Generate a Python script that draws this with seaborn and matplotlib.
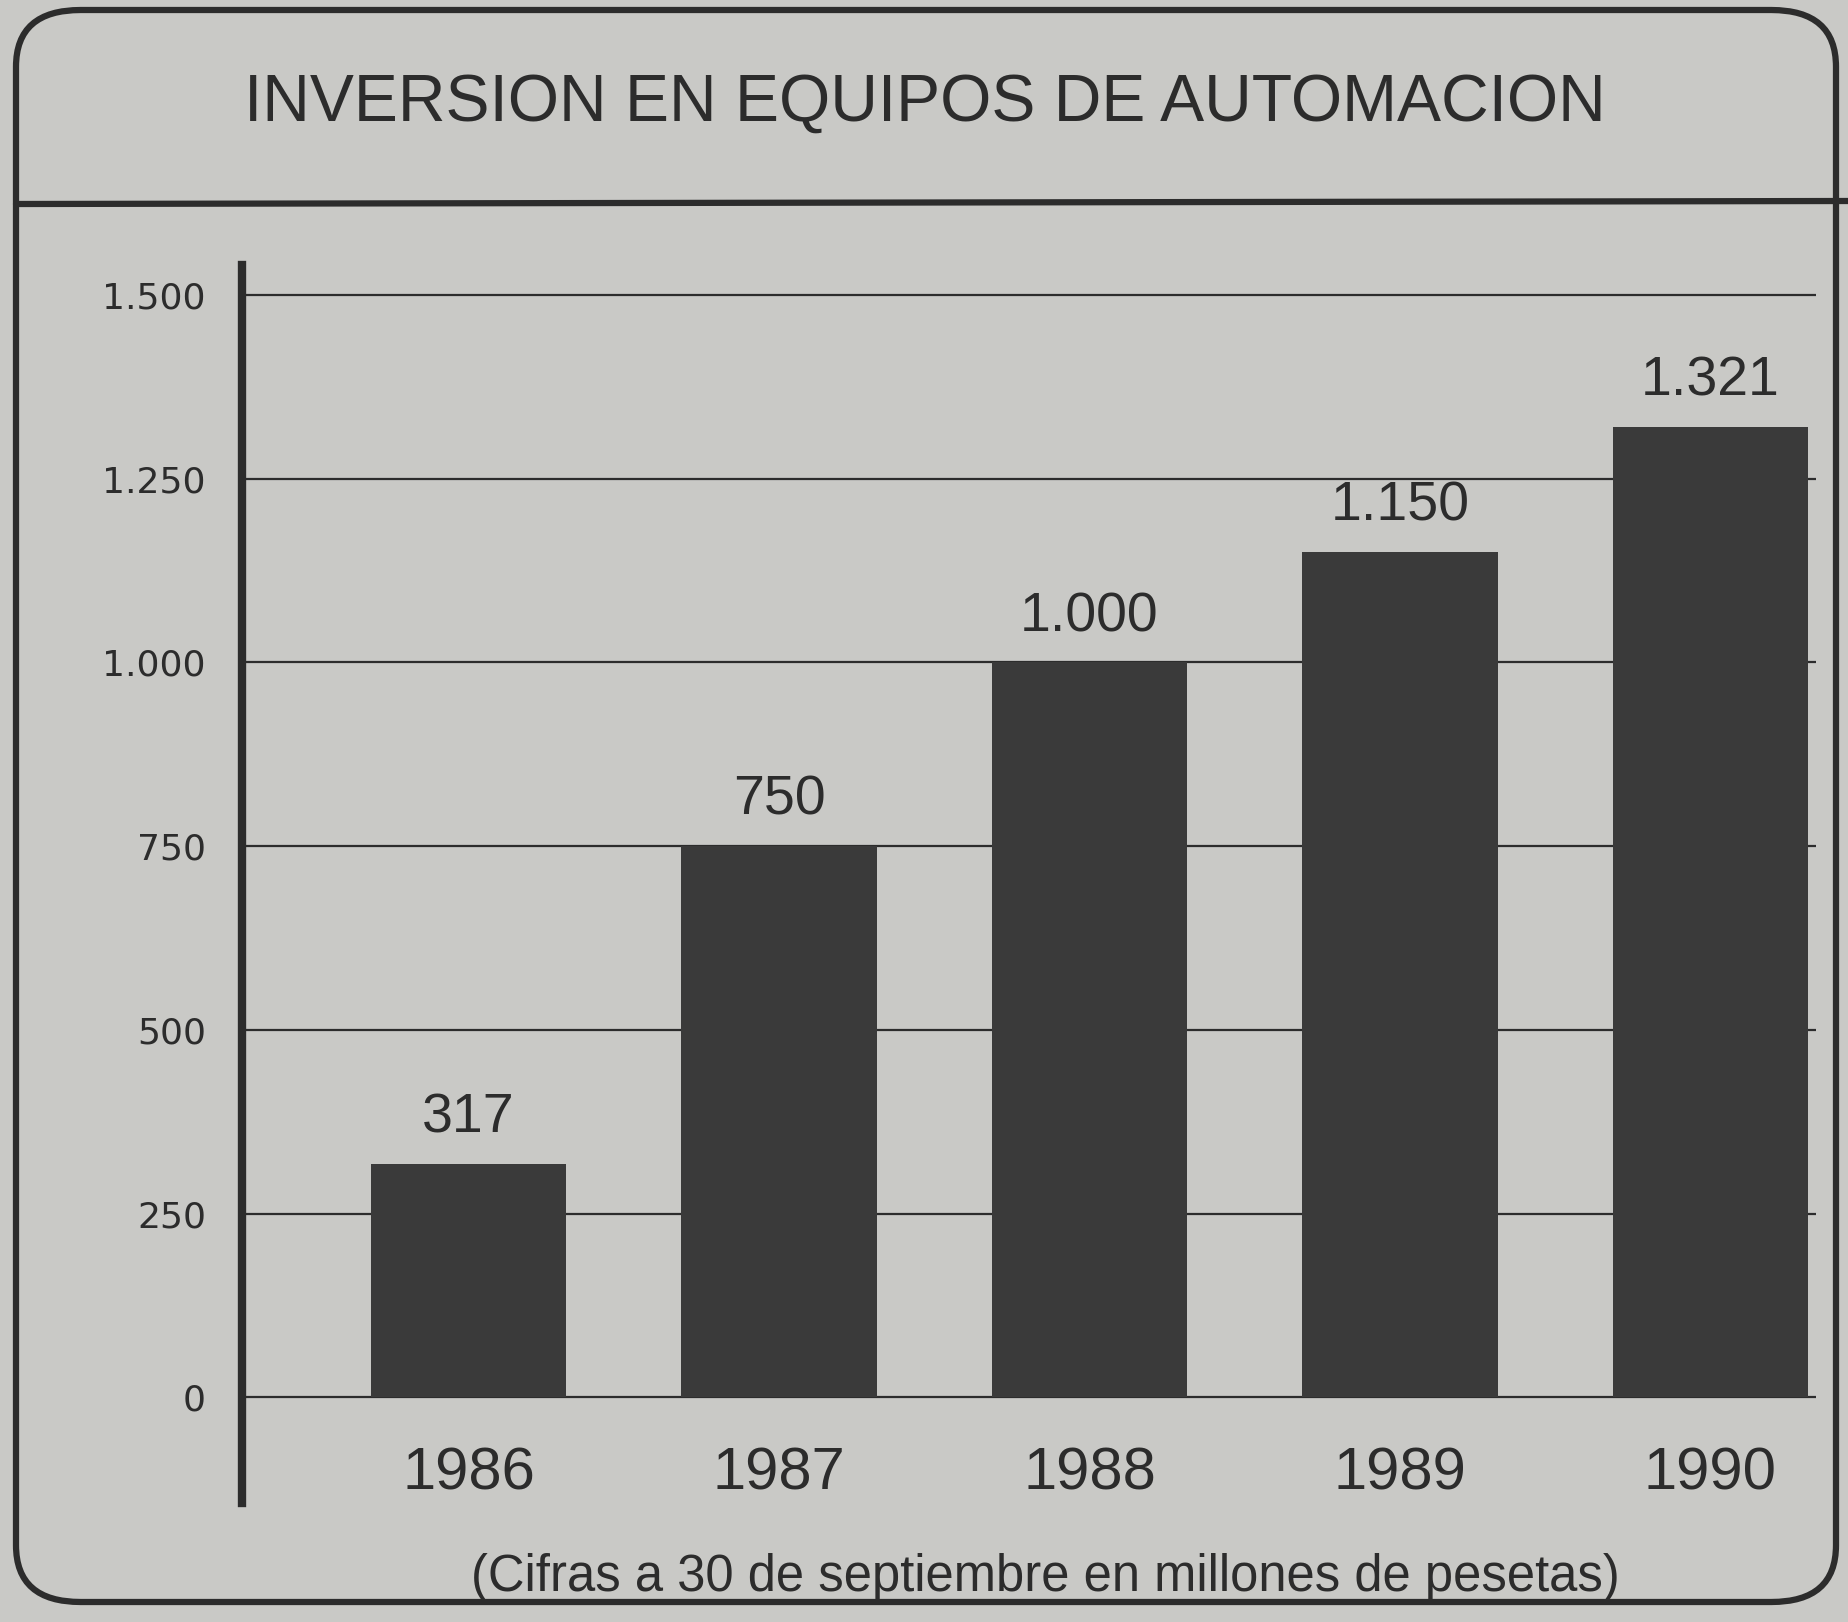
import matplotlib
matplotlib.use("Agg")
import matplotlib.pyplot as plt
import seaborn as sns
import pandas as pd
from matplotlib.patches import FancyBboxPatch
from matplotlib.lines import Line2D

# ---- data ----
years = ["1986", "1987", "1988", "1989", "1990"]
values = [317, 750, 1000, 1150, 1321]
value_labels = ["317", "750", "1.000", "1.150", "1.321"]
y_ticks = [0, 250, 500, 750, 1000, 1250, 1500]
y_tick_labels = ["0", "250", "500", "750", "1.000", "1.250", "1.500"]
title = "INVERSION EN EQUIPOS DE AUTOMACION"
note = "(Cifras a 30 de septiembre en millones de pesetas)"

BG = "#c9c9c6"
INK = "#2c2c2c"
BAR = "#3a3a3a"
NARROW = ["Liberation Sans Narrow", "Liberation Sans", "DejaVu Sans"]

sns.set_style("white")
plt.rcParams["font.family"] = ["Liberation Sans", "DejaVu Sans"]

W, H = 1849, 1622
fig = plt.figure(figsize=(W / 100, H / 100), dpi=100, facecolor=BG)

# outer rounded frame and divider
frame = FancyBboxPatch((16 / W, 20 / H), (1836 - 16) / W, (1612 - 20) / H,
                       boxstyle="round,pad=0,rounding_size=0.035",
                       transform=fig.transFigure, fill=False,
                       edgecolor=INK, linewidth=4.5)
fig.patches.append(frame)
fig.add_artist(Line2D([16 / W, 1.0], [1 - 204 / H, 1 - 201 / H],
                      transform=fig.transFigure, color=INK, linewidth=4.5))

fig.text(925 / W, 1 - 104 / H, title, ha="center", va="center",
         fontsize=47.5, color=INK, family=NARROW)
fig.text(1045 / W, 1 - 1578 / H, note, ha="center", va="center",
         fontsize=36.5, color=INK, family=NARROW)

ax = fig.add_axes([242 / W, 1 - 1503 / H, (1816 - 242) / W, (1503 - 265) / H])
ax.set_facecolor(BG)
ax.patch.set_alpha(0)

df = pd.DataFrame({"year": years, "value": values})
sns.barplot(data=df, x="year", y="value", color=BAR, saturation=1,
            width=0.63, ax=ax, zorder=3, edgecolor=BAR, linewidth=0)

ax.set_xlim(-0.73, 4.34)
ax.set_ylim(-144, 1541)
ax.set_yticks(y_ticks)
ax.set_yticklabels(y_tick_labels, fontsize=26, color=INK, family=["DejaVu Sans"])
ax.tick_params(axis="y", length=0, pad=26)
ax.set_xticks([])
ax.set_xlabel("")
ax.set_ylabel("")

ax.yaxis.grid(True, color=INK, linewidth=1.6, zorder=1)
ax.set_axisbelow(True)

for side in ["top", "right", "bottom"]:
    ax.spines[side].set_visible(False)
ax.spines["left"].set_color(INK)
ax.spines["left"].set_linewidth(6)

for i, (yr, v, lab) in enumerate(zip(years, values, value_labels)):
    ax.annotate(lab, (i, v), xytext=(0, 14), textcoords="offset points",
                ha="center", va="bottom", fontsize=40, color=INK)
    ax.text(i, -105, yr, ha="center", va="center", fontsize=43,
            color=INK, family=NARROW)

fig.savefig("out.png", dpi=100, facecolor=BG)
